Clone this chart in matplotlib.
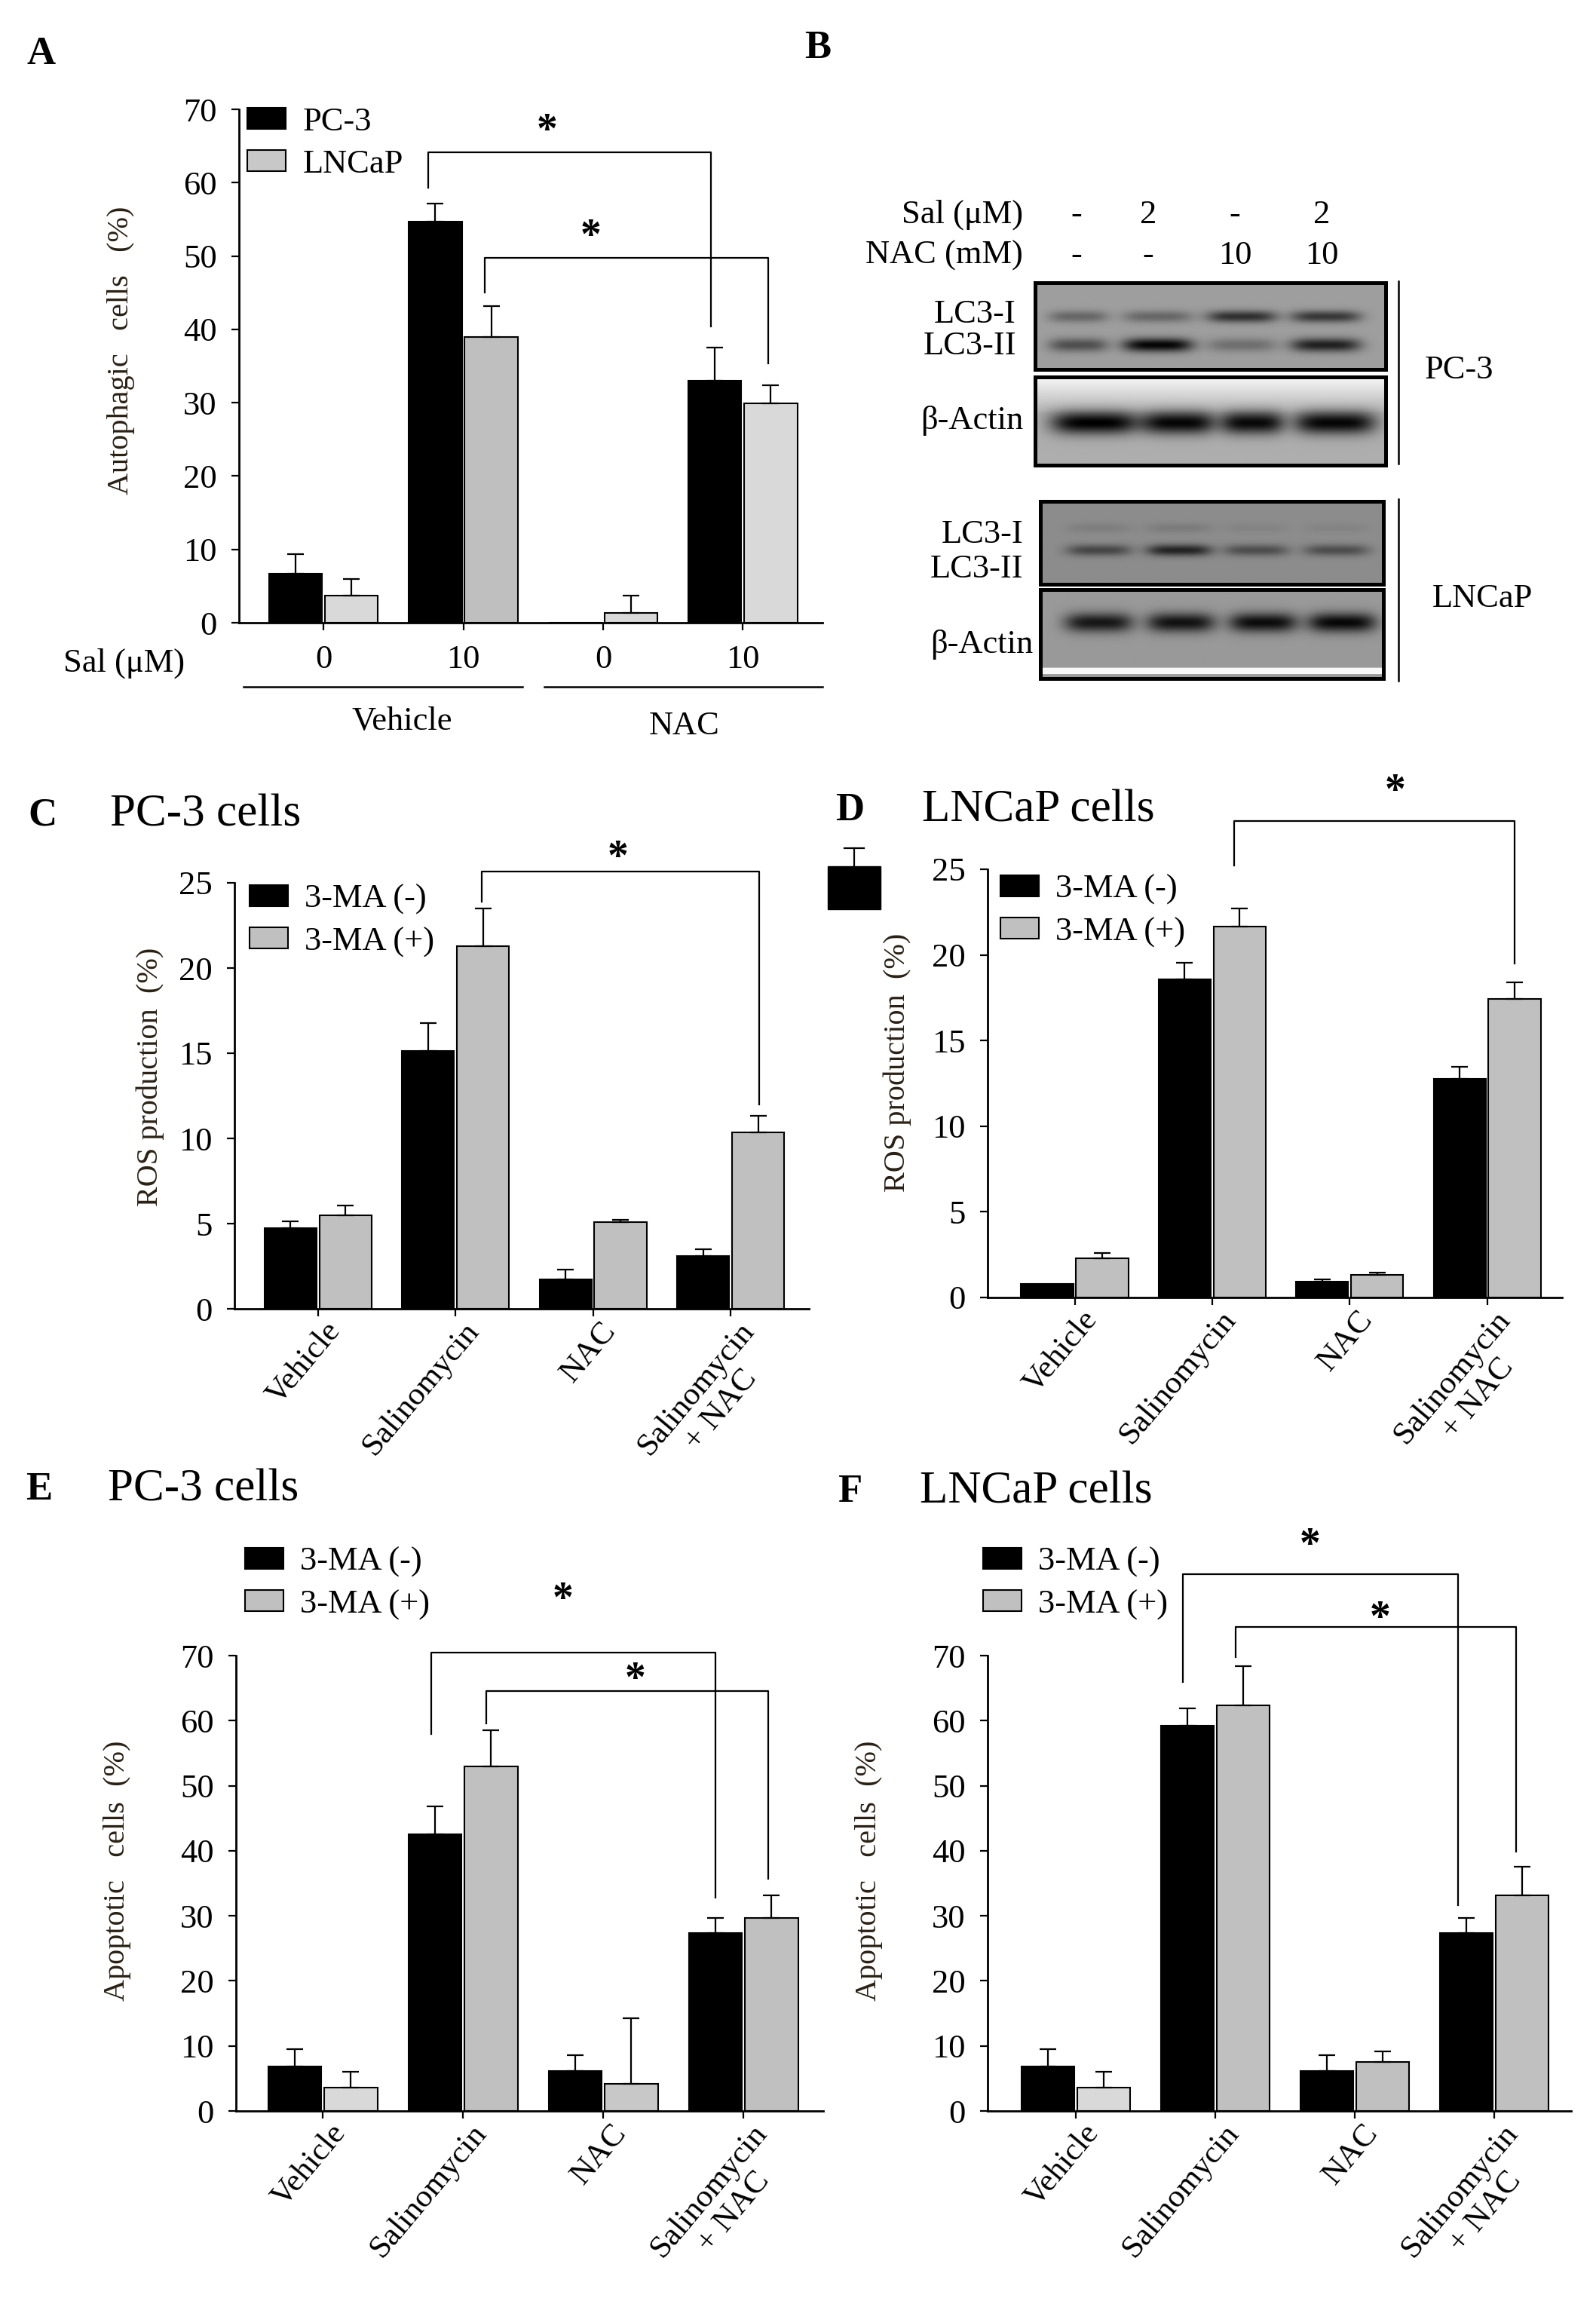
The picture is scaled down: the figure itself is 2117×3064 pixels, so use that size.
import numpy as np
import matplotlib
matplotlib.use("Agg")
import matplotlib.pyplot as plt
import matplotlib.transforms as mtransforms
from matplotlib.patches import Rectangle
from matplotlib.lines import Line2D

plt.rcParams['font.family'] = ['Liberation Serif', 'DejaVu Serif']

# ---------------- data ----------------
groups = ['Vehicle', 'Salinomycin', 'NAC', 'Salinomycin\n+ NAC']

# A: autophagic cells (%)
a_sal = ['0', '10', '0', '10']
a_pc3 = [6.7, 54.7, 0.0, 33.0]
a_pc3_err = [2.7, 2.5, 0.0, 4.5]
a_lncap = [3.7, 39.0, 1.3, 29.9]
a_lncap_err = [2.3, 4.2, 2.4, 2.5]
a_lncap_col = ['#d9d9d9', '#bfbfbf', '#d9d9d9', '#d9d9d9']

# C: ROS production (%), PC-3
c_minus = [4.72, 15.14, 1.74, 3.11]
c_minus_err = [0.42, 1.61, 0.54, 0.37]
c_plus = [5.49, 21.3, 5.09, 10.37]
c_plus_err = [0.57, 2.2, 0.13, 0.96]

# D: ROS production (%), LNCaP
d_minus = [0.8, 18.57, 0.93, 12.78]
d_minus_err = [0.0, 0.96, 0.14, 0.67]
d_plus = [2.27, 21.64, 1.33, 17.45]
d_plus_err = [0.32, 1.06, 0.14, 0.96]

# E: apoptotic cells (%), PC-3
e_minus = [6.8, 42.5, 6.1, 27.3]
e_minus_err = [2.75, 4.3, 2.45, 2.4]
e_plus = [3.57, 53.0, 4.15, 29.7]
e_plus_err = [2.41, 5.5, 10.15, 3.5]

# F: apoptotic cells (%), LNCaP
f_minus = [6.8, 59.2, 6.1, 27.3]
f_minus_err = [2.75, 2.7, 2.45, 2.4]
f_plus = [3.57, 62.3, 7.5, 33.2]
f_plus_err = [2.41, 6.1, 1.6, 4.3]

# significance brackets: (x left, y left end, x right, y right end, y top, star x, star y)
a_sig = [(0.75, 59.3, 2.77, 40.4, 64.1, 1.6, 66.9), (1.155, 45.0, 3.18, 35.4, 49.7, 1.91, 52.5)]
c_sig = [(1.19, 23.9, 3.21, 12.0, 25.67, 2.18, 26.4)]
d_sig = [(1.157, 25.2, 3.2, 19.5, 27.83, 2.33, 29.5)]
e_sig = [(0.773, 58.0, 2.8, 32.8, 70.5, 1.71, 78.5), (1.165, 59.6, 3.18, 35.7, 64.5, 2.23, 66.2)]
f_sig = [(0.765, 66.0, 2.74, 31.6, 82.5, 1.68, 86.8), (1.147, 69.8, 3.154, 39.9, 74.4, 2.18, 75.6)]

# B: western blot band strengths (0 = none, 1 = saturated), lanes 1-4
blot_sal = ['-', '2', '-', '2']
blot_nac = ['-', '-', '10', '10']
pc3_lc3_1 = [0.35, 0.35, 0.7, 0.65]
pc3_lc3_2 = [0.5, 0.97, 0.3, 0.8]
pc3_actin = [1.0, 0.97, 0.95, 0.97]
ln_lc3_1 = [0.1, 0.12, 0.06, 0.06]
ln_lc3_2 = [0.5, 0.75, 0.45, 0.45]
ln_actin = [0.85, 0.88, 0.92, 0.95]

W, H = 2117, 3064
fig = plt.figure(figsize=(W / 100, H / 100), dpi=100)


def rect(x0, y0, x1, y1):
    # pixel box (origin top-left) -> figure fraction
    return [x0 / W, 1 - y1 / H, (x1 - x0) / W, (y1 - y0) / H]


def ftext(x, y, s, **kw):
    kw.setdefault('va', 'center')
    fig.text(x / W, 1 - y / H, s, **kw)


def fline(x0, y0, x1, y1, lw=1.8):
    fig.add_artist(Line2D([x0 / W, x1 / W], [1 - y0 / H, 1 - y1 / H],
                          transform=fig.transFigure, color='black', lw=lw))


def bars(ax, minus, minus_err, plus, plus_err, plus_col):
    x = np.arange(len(minus))
    b1 = ax.bar(x - 0.2, minus, 0.38, color='black', edgecolor='black', lw=1.5)
    b2 = ax.bar(x + 0.2, plus, 0.38, color=plus_col, edgecolor='black', lw=1.5)
    for xs, v, e in ((x - 0.2, minus, minus_err), (x + 0.2, plus, plus_err)):
        v = np.array(v)
        e = np.array(e)
        m = e > 0
        ax.errorbar(xs[m], v[m], yerr=[np.zeros(m.sum()), e[m]], fmt='none',
                    ecolor='black', elinewidth=1.6, capsize=8, capthick=1.6)
    return b1, b2


def style(ax, ymax, step, xmin, xmax):
    for s in ['top', 'right']:
        ax.spines[s].set_visible(False)
    for s in ['left', 'bottom']:
        ax.spines[s].set_linewidth(2)
    ax.set_xlim(xmin, xmax)
    ax.set_ylim(0, ymax)
    ax.set_yticks(np.arange(0, ymax + 1, step))
    ax.set_xticks(np.arange(4))
    ax.tick_params(axis='both', direction='out', length=7, width=1.6, labelsize=32)
    ax.tick_params(axis='y', pad=14)


def brackets(ax, sig):
    for xl, yl, xr, yr, yt, sx, sy in sig:
        ax.plot([xl, xl, xr, xr], [yl, yt, yt, yr], color='black', lw=1.6, clip_on=False)
        ax.text(sx, sy, '*', ha='center', va='center', fontsize=40, fontweight='bold', clip_on=False)


def group_labels(ax):
    ax.set_xticklabels(groups, rotation=50, ha='right', va='top', rotation_mode='anchor',
                       fontsize=31, multialignment='center')
    ax.tick_params(axis='x', pad=2)
    off = mtransforms.ScaledTranslation(0.09, 0.02, fig.dpi_scale_trans)
    for t in ax.get_xticklabels():
        t.set_transform(t.get_transform() + off)


def legend(ax, handles, names, x, y, gray='#c0c0c0', fs=32):
    leg = ax.legend(handles, names, loc='upper left', bbox_to_anchor=(x / W, 1 - y / H),
                    bbox_transform=fig.transFigure, frameon=False, fontsize=fs,
                    handlelength=1.15, handleheight=0.6, handletextpad=0.5,
                    labelspacing=0.35, borderpad=0, borderaxespad=0)
    leg.legend_handles[1].set_facecolor(gray)
    return leg


ylab_col = '#2a2014'

# ---------------- A ----------------
axA = fig.add_axes(rect(317, 145, 1091, 826))
b1, b2 = bars(axA, a_pc3, a_pc3_err, a_lncap, a_lncap_err, a_lncap_col)
style(axA, 70, 10, -0.605, 3.57)
axA.set_xticklabels(a_sal)
axA.tick_params(axis='x', pad=14)
axA.set_ylabel('Autophagic   cells   (%)', fontsize=29, color=ylab_col)
axA.yaxis.set_label_coords(-0.178, 0.53)
brackets(axA, a_sig)
legend(axA, [b1, b2], ['PC-3', 'LNCaP'], 328, 142, gray='#c8c8c8')
ftext(35, 72, 'A', fontsize=38, fontweight='bold')
ftext(84, 880, 'Sal (μM)', fontsize=32)
fline(323, 911, 693, 911)
fline(722, 911, 1091, 911)
ftext(533, 957, 'Vehicle', fontsize=32, ha='center')
ftext(908, 963, 'NAC', fontsize=32, ha='center')

# ---------------- B ----------------
ftext(1067, 64, 'B', fontsize=38, fontweight='bold')
ftext(1357, 285, 'Sal (μM)', fontsize=32, ha='right')
ftext(1357, 339, 'NAC (mM)', fontsize=32, ha='right')
for xp, s1, s2 in zip([1428, 1523, 1638, 1753], blot_sal, blot_nac):
    ftext(xp, 285, s1, fontsize=32, ha='center')
    ftext(xp, 339, s2, fontsize=32, ha='center')


def blot(box, bg, rows):
    ax = fig.add_axes(rect(*box))
    ny, nx = 140, 480
    yy, xx = np.mgrid[0:1:ny * 1j, 0:1:nx * 1j]
    img = np.array(bg, dtype=float)[:, None] * np.ones((ny, nx))
    dark = np.zeros((ny, nx))
    for yc, hh, lanes, half, vals in rows:
        for cx, hw, v in zip(lanes, half, vals):
            dark += v * np.exp(-np.abs((xx - cx) / hw) ** 4) * np.exp(-((yy - yc) / hh) ** 2)
    img = img * (1 - np.clip(dark, 0, 1))
    ax.imshow(img, cmap='gray', vmin=0, vmax=1, extent=[0, 1, 1, 0], aspect='auto',
              interpolation='bilinear')
    ax.set_xticks([])
    ax.set_yticks([])
    for s in ax.spines.values():
        s.set_linewidth(3.6)
    return ax


ny = 140
t = np.linspace(0, 1, ny)
bg1 = np.full(ny, 0.62)
bg2 = np.where(t < 0.4, 0.97 - (0.97 - 0.7) * t / 0.4, 0.68)
bg3 = np.full(ny, 0.55)
bg4 = np.where((t > 0.88) & (t < 0.95), 0.97, 0.6)

lc3_lanes = [0.123, 0.35, 0.59, 0.83]
act_lanes = [0.17, 0.41, 0.62, 0.856]
ln_lanes = [0.17, 0.405, 0.63, 0.864]
ln_act_lanes = [0.17, 0.41, 0.65, 0.88]

blot((1373, 375, 1838, 490), bg1,
     [(0.39, 0.07, lc3_lanes, [0.085, 0.1, 0.1, 0.1], pc3_lc3_1),
      (0.72, 0.08, lc3_lanes, [0.085, 0.1, 0.1, 0.1], pc3_lc3_2)])
blot((1373, 500, 1838, 617), bg2,
     [(0.52, 0.13, act_lanes, [0.125, 0.105, 0.09, 0.117], pc3_actin)])
blot((1380, 665, 1835, 775), bg3,
     [(0.32, 0.06, ln_lanes, [0.095] * 4, ln_lc3_1),
      (0.59, 0.07, ln_lanes, [0.095] * 4, ln_lc3_2)])
blot((1380, 782, 1835, 900), bg4,
     [(0.37, 0.11, ln_act_lanes, [0.1] * 4, ln_actin)])

ftext(1348, 417, 'LC3-I', fontsize=32, ha='right')
ftext(1348, 459, 'LC3-II', fontsize=32, ha='right')
ftext(1357, 558, 'β-Actin', fontsize=32, ha='right')
ftext(1357, 709, 'LC3-I', fontsize=32, ha='right')
ftext(1357, 755, 'LC3-II', fontsize=32, ha='right')
ftext(1370, 855, 'β-Actin', fontsize=32, ha='right')
fline(1855, 373, 1855, 615)
fline(1855, 662, 1855, 903)
ftext(1890, 491, 'PC-3', fontsize=32)
ftext(1900, 794, 'LNCaP', fontsize=32)

# ---------------- C ----------------
axC = fig.add_axes(rect(311, 1171, 1073, 1736))
b1, b2 = bars(axC, c_minus, c_minus_err, c_plus, c_plus_err, '#c0c0c0')
style(axC, 25, 5, -0.608, 3.57)
group_labels(axC)
axC.set_ylabel('ROS production  (%)', fontsize=29, color=ylab_col)
axC.yaxis.set_label_coords(-0.122, 0.545)
brackets(axC, c_sig)
legend(axC, [b1, b2], ['3-MA (-)', '3-MA (+)'], 331, 1173)
ftext(37, 1081, 'C', fontsize=38, fontweight='bold')
ftext(146, 1081, 'PC-3 cells', fontsize=44)

# ---------------- D ----------------
axD = fig.add_axes(rect(1310, 1153, 2072, 1721))
b1, b2 = bars(axD, d_minus, d_minus_err, d_plus, d_plus_err, '#c0c0c0')
style(axD, 25, 5, -0.634, 3.545)
group_labels(axD)
axD.set_ylabel('ROS production  (%)', fontsize=29, color=ylab_col)
axD.yaxis.set_label_coords(-0.132, 0.548)
brackets(axD, d_sig)
legend(axD, [b1, b2], ['3-MA (-)', '3-MA (+)'], 1327, 1160)
ftext(1108, 1075, 'D', fontsize=38, fontweight='bold')
ftext(1223, 1075, 'LNCaP cells', fontsize=44)
# stray bar fragment left of panel D
fig.add_artist(Rectangle((1098 / W, 1 - 1206 / H), 70 / W, 57 / H, transform=fig.transFigure,
                         facecolor='black', edgecolor='black'))
fline(1133, 1149, 1133, 1125, lw=1.6)
fline(1120, 1125, 1146, 1125, lw=1.6)

# ---------------- E ----------------
axE = fig.add_axes(rect(313, 2196, 1092, 2800))
b1, b2 = bars(axE, e_minus, e_minus_err, e_plus, e_plus_err,
              ['#d9d9d9', '#c0c0c0', '#c8c8c8', '#c0c0c0'])
style(axE, 70, 10, -0.62, 3.57)
group_labels(axE)
axE.set_ylabel('Apoptotic   cells  (%)', fontsize=29, color=ylab_col)
axE.yaxis.set_label_coords(-0.178, 0.528)
brackets(axE, e_sig)
legend(axE, [b1, b2], ['3-MA (-)', '3-MA (+)'], 325, 2052)
ftext(34, 1976, 'E', fontsize=38, fontweight='bold')
ftext(143, 1976, 'PC-3 cells', fontsize=44)

# ---------------- F ----------------
axF = fig.add_axes(rect(1310, 2196, 2084, 2800))
b1, b2 = bars(axF, f_minus, f_minus_err, f_plus, f_plus_err,
              ['#d9d9d9', '#c0c0c0', '#c0c0c0', '#c0c0c0'])
style(axF, 70, 10, -0.633, 3.55)
group_labels(axF)
axF.set_ylabel('Apoptotic   cells  (%)', fontsize=29, color=ylab_col)
axF.yaxis.set_label_coords(-0.179, 0.528)
brackets(axF, f_sig)
legend(axF, [b1, b2], ['3-MA (-)', '3-MA (+)'], 1304, 2052)
ftext(1111, 1979, 'F', fontsize=38, fontweight='bold')
ftext(1220, 1979, 'LNCaP cells', fontsize=44)

fig.savefig('out.png', dpi=100, facecolor='white')
